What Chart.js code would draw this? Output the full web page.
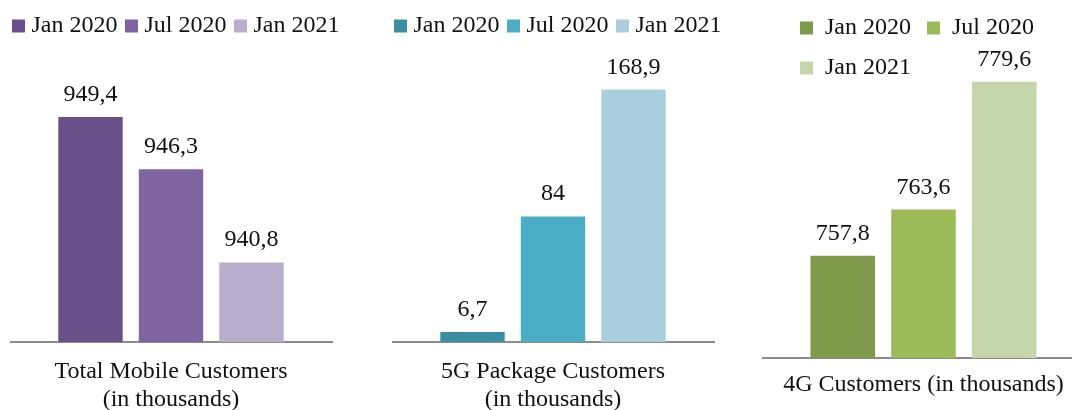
<!DOCTYPE html>
<html>
<head>
<meta charset="utf-8">
<script src="https://cdn.jsdelivr.net/npm/chart.js@4"></script>
<style>
  html, body { margin: 0; padding: 0; background: #fff; width: 1072px; height: 410px; overflow: hidden; position: relative; }
  canvas { position: absolute; top: 0; }
</style>
</head>
<body>
<canvas id="chartTotal" width="360" height="414" style="left:10px"></canvas>
<canvas id="chart5g" width="360" height="414" style="left:392px"></canvas>
<canvas id="chart4g" width="323" height="414" style="left:762px"></canvas>
<script>
// Données
const periods = ['Jan 2020', 'Jul 2020', 'Jan 2021'];
const totalMobile = [949.4, 946.3, 940.8];
const fiveG = [6.7, 84, 168.9];
const fourG = [757.8, 763.6, 779.6];
const titleTotal = ['Total Mobile Customers', '(in thousands)'];
const title5g = ['5G Package Customers', '(in thousands)'];
const title4g = '4G Customers (in thousands)';

const FONT = "'Liberation Serif', 'Times New Roman', serif";

// valeurs au-dessus des barres (virgule décimale)
const valueLabels = {
    id: 'valueLabels',
    afterDatasetsDraw(chart) {
        const ctx = chart.ctx;
        ctx.save();
        ctx.font = '24px ' + FONT;
        ctx.fillStyle = '#111';
        ctx.textAlign = 'center';
        ctx.textBaseline = 'alphabetic';
        chart.data.datasets.forEach((ds, i) => {
            chart.getDatasetMeta(i).data.forEach((bar, j) => {
                ctx.fillText(String(ds.data[j]).replace('.', ','), bar.x, bar.y - 16);
            });
        });
        ctx.restore();
    }
};

// décaler la légende horizontalement
const legendShift = {
    id: 'legendShift',
    afterLayout(chart, args, opts) {
        if (chart.legend && opts.x) {
            chart.legend.left += opts.x;
            chart.legend.right += opts.x;
        }
    }
};

function makePanel(id, values, colors, title, cfg) {
    // petit carré + trait épais => carré de 13px collé au texte
    const legendLabels = cfg.tightBox ? {
        boxWidth: 2,
        boxHeight: 2,
        generateLabels: chart => Chart.defaults.plugins.legend.labels.generateLabels(chart)
            .map(item => ({ ...item, strokeStyle: item.fillStyle, lineWidth: 11 })),
    } : { boxWidth: 13, boxHeight: 13 };

    new Chart(document.getElementById(id).getContext('2d'), {
        type: 'bar',
        data: {
            labels: [''],
            datasets: periods.map((p, i) => ({
                label: p,
                data: [values[i]],
                backgroundColor: colors[i],
                borderWidth: 0,
                barPercentage: 0.8,
                categoryPercentage: 0.75,
                clip: { left: false, right: false, top: false, bottom: 0 },
            })),
        },
        options: {
            responsive: false,
            animation: false,
            layout: { padding: { top: cfg.top, left: 0, right: 0, bottom: 0 } },
            plugins: {
                legend: {
                    position: 'top',
                    align: 'start',
                    labels: {
                        ...legendLabels,
                        padding: cfg.legendPadding,
                        color: '#111',
                        font: { family: FONT, size: 24 },
                    },
                },
                tooltip: { enabled: false },
                legendShift: { x: cfg.shift || 0 },
            },
            scales: {
                x: {
                    ticks: { display: false },
                    grid: { display: true, drawOnChartArea: false, drawTicks: false },
                    border: { display: true, color: '#8c8c8c', width: 2 },
                    title: {
                        display: true,
                        text: title,
                        color: '#111',
                        font: { family: FONT, size: 24, lineHeight: 28 / 24 },
                        padding: cfg.titlePadding,
                    },
                },
                y: {
                    display: cfg.yWidth > 0,
                    position: 'right',
                    min: cfg.min,
                    max: cfg.max,
                    ticks: { display: false },
                    grid: { display: false },
                    border: { display: false },
                    afterFit: scale => { scale.width = cfg.yWidth; },
                },
            },
        },
        plugins: [valueLabels, legendShift],
    });
}

makePanel('chartTotal', totalMobile, ['#68518A', '#8064A2', '#B9AECB'], titleTotal,
    { top: 1, legendPadding: 13, tightBox: true, shift: -5.5, titlePadding: { top: 16, bottom: 0 }, min: 936.1, max: 953.47, yWidth: 38 });

makePanel('chart5g', fiveG, ['#3C8CA3', '#4BACC6', '#A9CFDE'], title5g,
    { top: 1, legendPadding: 13, tightBox: true, shift: -5.5, titlePadding: { top: 16, bottom: 0 }, min: 0, max: 196.7, yWidth: 38 });

makePanel('chart4g', fourG, ['#7F9A4A', '#9BBB59', '#C6D6AC'], title4g,
    { top: 0, legendPadding: 16, titlePadding: { top: 13, bottom: 15 }, min: 745, max: 778.58, yWidth: 0, shift: 22 });
</script>
</body>
</html>
